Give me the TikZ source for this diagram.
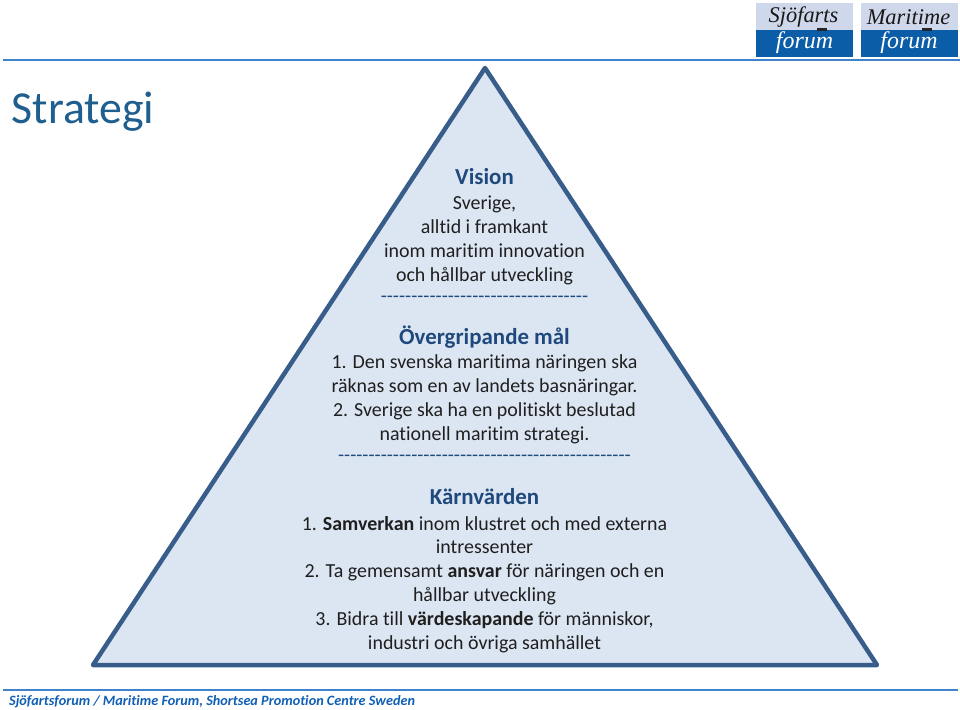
\documentclass[tikz,border=0pt]{standalone}
\usepackage{fontspec}
\setmainfont{Carlito}[Ligatures=NoCommon]
\newfontfamily\dashfont{Carlito}
\newfontfamily\logofont{Liberation Serif}
\definecolor{edgeblue}{HTML}{385D8A}
\definecolor{fillblue}{HTML}{DCE6F2}
\definecolor{headblue}{HTML}{1F497D}
\definecolor{titleblue}{HTML}{1F5F8F}
\definecolor{ruleblue}{HTML}{3F83CC}
\definecolor{footblue}{HTML}{0F5FB4}
\definecolor{logolight}{HTML}{CFD7EA}
\definecolor{logoblue}{HTML}{0B5DA7}
\tikzset{
  head/.style={font=\fontsize{23}{24}\selectfont\bfseries, text=headblue, anchor=center},
  body/.style={font=\fontsize{20}{24}\selectfont, text=black!88, align=center, anchor=north},
  dashline/.style={font=\fontsize{20}{24}\selectfont\dashfont, text=headblue, anchor=center},
  logotop/.style={font=\fontsize{22.5}{27}\selectfont\logofont\itshape, text=black!90},
  logobot/.style={font=\fontsize{24}{27}\selectfont\logofont\itshape, text=white}
}
\begin{document}
\begin{tikzpicture}[x=1bp, y=-1bp]
    \useasboundingbox (0, 0) rectangle (960, 710);

    % Logos
    \fill[logolight] (756, 3) rectangle (853, 30);
    \fill[logoblue] (756, 30) rectangle (853, 57);
    \fill[logolight] (861, 3) rectangle (958, 30);
    \fill[logoblue] (861, 30) rectangle (958, 57);
    \fill[black!85] (817, 28) rectangle (827, 31);
    \fill[black!85] (922, 28) rectangle (932, 31);
    \node[logotop, inner sep=0pt] (sjofarts) at (803.5, 17) {Sjöfarts};
    \node[logobot, inner sep=0pt] (forumA) at (804.5, 43) {forum};
    \node[logotop, inner sep=0pt] (maritime) at (908.5, 17) {Maritime};
    \node[logobot, inner sep=0pt] (forumB) at (909, 43) {forum};

    % Rules
    \draw[ruleblue, line width=1.5bp] (3, 59.8) -- (960, 59.8);
    \draw[ruleblue, line width=1.5bp] (3, 690) -- (958, 690);

    % Title
    \node[font=\fontsize{46}{48}\selectfont, text=titleblue, anchor=west, inner sep=0pt] (title) at (11.5, 112) {Strategi};

    % Pyramid
    \draw[edgeblue, fill=fillblue, line width=4.5bp, line join=round] (485, 68) -- (93, 665) -- (877, 665) -- cycle;

    % Vision
    \node[head] (vision) at (484.5, 177) {Vision};
    \node[body] (visiontext) at (484.5, 192.5) {Sverige,\\alltid i framkant\\inom maritim innovation\\och hållbar utveckling};
    \node[dashline] (dashA) at (484.5, 299) {----------------------------------};

    % Goals
    \node[head] (goals) at (484.5, 337) {Övergripande mål};
    \node[body] (goalstext) at (484.5, 351.5) {1. Den svenska maritima näringen ska\\räknas som en av landets basnäringar.\\2. Sverige ska ha en politiskt beslutad\\nationell maritim strategi.};
    \node[dashline] (dashB) at (484.5, 458) {------------------------------------------------};

    % Values
    \node[head] (values) at (484.5, 497) {Kärnvärden};
    \node[body] (valuestext) at (484.5, 512.5) {1. \textbf{Samverkan} inom klustret och med externa\\intressenter\\2. Ta gemensamt \textbf{ansvar} för näringen och en\\hållbar utveckling\\3. Bidra till \textbf{värdeskapande} för människor,\\industri och övriga samhället};

    % Footer
    \node[font=\fontsize{14.3}{17}\selectfont\bfseries\itshape, text=footblue, anchor=west, inner sep=0pt] (footer) at (9, 701.5) {Sjöfartsforum / Maritime Forum, Shortsea Promotion Centre Sweden};
\end{tikzpicture}
\end{document}
